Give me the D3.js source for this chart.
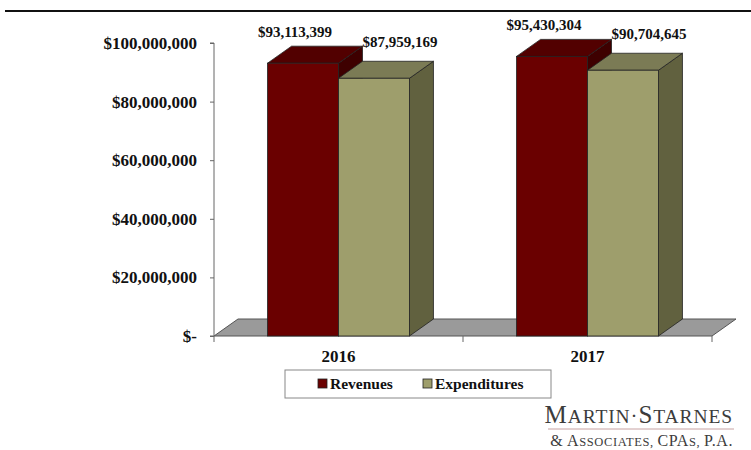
<!DOCTYPE html>
<meta charset="utf-8">
<script src="https://d3js.org/d3.v7.min.js"></script>
<style>
  body { margin: 0; background: #fff; }
  text { font-family: "Liberation Serif", "Times New Roman", serif; }
</style>
<div id="chart"></div>
<script>

// data
var years = ["2016", "2017"];
var series = ["Revenues", "Expenditures"];
var revenues = [93113399, 95430304];
var expenditures = [87959169, 90704645];
var yTicks = [0, 20000000, 40000000, 60000000, 80000000, 100000000];

var W = 751, H = 450;
var svg = d3.select("#chart").append("svg")
    .attr("width", W)
    .attr("height", H);

// rule across the top of the slide
svg.append("line")
    .attr("x1", 5).attr("x2", W)
    .attr("y1", 11).attr("y2", 11)
    .attr("stroke", "#111").attr("stroke-width", 2);

// plot area (front plane) and 3d depth offset
var pLeft = 214, pRight = 712, pTop = 43, pBottom = 336;
var dx = 24, dy = -17;

var x0 = d3.scaleBand().domain(years).range([pLeft, pRight]);
var x1 = d3.scaleBand().domain(series)
    .range([x0.bandwidth() * 0.215, x0.bandwidth() * 0.785]);
var y = d3.scaleLinear().domain([0, 100000000]).range([pBottom, pTop]);

var colors = {
  Revenues:     {front: "#6a0000", top: "#520000", side: "#3e0000"},
  Expenditures: {front: "#9e9e6c", top: "#7b7b55", side: "#61613f"}
};

// floor
svg.append("path")
    .attr("d", "M" + pLeft + "," + pBottom + "L" + pRight + "," + pBottom +
               "L" + (pRight + dx) + "," + (pBottom + dy) +
               "L" + (pLeft + dx) + "," + (pBottom + dy) + "Z")
    .attr("fill", "#9a9a9a")
    .attr("stroke", "#555")
    .attr("stroke-width", 1);

// y axis
var yAxis = svg.append("g")
    .attr("transform", "translate(" + pLeft + ",0)")
    .call(d3.axisLeft(y).tickValues(yTicks).tickSize(4).tickPadding(13)
      .tickFormat(function(d) { return d === 0 ? "$-" : "$" + d3.format(",")(d); }));
yAxis.select(".domain").attr("stroke", "#666").attr("d", "M-4," + pTop + "H0V" + pBottom + "H-4");
yAxis.selectAll(".tick line").attr("stroke", "#666");
yAxis.selectAll("text")
    .attr("font-family", "Liberation Serif")
    .attr("font-weight", "bold")
    .attr("font-size", "17px")
    .attr("fill", "#111");

// x axis
var xAxis = svg.append("g")
    .attr("transform", "translate(0," + pBottom + ")")
    .call(d3.axisBottom(x0).tickSize(0).tickPadding(14));
xAxis.select(".domain").remove();
xAxis.selectAll("text")
    .attr("font-family", "Liberation Serif")
    .attr("font-weight", "bold")
    .attr("font-size", "17px")
    .attr("fill", "#111");
// category separator ticks
svg.append("g").selectAll("line")
    .data([pLeft, x0(years[1]), pRight])
    .join("line")
      .attr("x1", function(d) { return d; }).attr("x2", function(d) { return d; })
      .attr("y1", pBottom).attr("y2", pBottom + 6)
      .attr("stroke", "#666");

// bars
var rows = [];
years.forEach(function(yr, i) {
  rows.push({year: yr, key: "Revenues", value: revenues[i]});
  rows.push({year: yr, key: "Expenditures", value: expenditures[i]});
});

function poly(pts) {
  return "M" + pts.map(function(p) { return p.join(","); }).join("L") + "Z";
}

var bars = svg.append("g").selectAll("g")
    .data(rows)
    .join("g");

bars.each(function(d) {
  var g = d3.select(this);
  var xa = x0(d.year) + x1(d.key), xb = xa + x1.bandwidth();
  var yt = y(d.value), yb = y(0);
  var c = colors[d.key];
  // side
  g.append("path")
      .attr("d", poly([[xb, yt], [xb + dx, yt + dy], [xb + dx, yb + dy], [xb, yb]]))
      .attr("fill", c.side).attr("stroke", "#222").attr("stroke-width", 0.8);
  // top
  g.append("path")
      .attr("d", poly([[xa, yt], [xa + dx, yt + dy], [xb + dx, yt + dy], [xb, yt]]))
      .attr("fill", c.top).attr("stroke", "#222").attr("stroke-width", 0.8);
  // front
  g.append("rect")
      .attr("x", xa).attr("y", yt)
      .attr("width", xb - xa).attr("height", yb - yt)
      .attr("fill", c.front).attr("stroke", "#222").attr("stroke-width", 0.8);
});

// value labels
svg.append("g").selectAll("text")
    .data(rows)
    .join("text")
      .attr("x", function(d) { return x0(d.year) + x1(d.key) + x1.bandwidth() / 2 + (d.key === "Revenues" ? -8 : 26); })
      .attr("y", function(d) { return y(d.value) + dy - (d.key === "Revenues" ? 9 : 14); })
      .attr("text-anchor", "middle")
      .attr("font-weight", "bold")
      .attr("font-size", "15px")
      .attr("fill", "#111")
      .text(function(d) { return "$" + d3.format(",")(d.value); });

// legend
var legend = svg.append("g").attr("transform", "translate(285,370)");
legend.append("rect")
    .attr("width", 266).attr("height", 28)
    .attr("fill", "#fff").attr("stroke", "#888").attr("stroke-width", 1);
var legX = d3.scalePoint().domain(series).range([33, 138]);
var items = legend.selectAll("g.item")
    .data(series)
    .join("g")
      .attr("class", "item")
      .attr("transform", function(d) { return "translate(" + legX(d) + ",14)"; });
items.append("rect")
    .attr("x", 0).attr("y", -5)
    .attr("width", 9).attr("height", 9)
    .attr("fill", function(d) { return colors[d].front; })
    .attr("stroke", "#222").attr("stroke-width", 0.8);
items.append("text")
    .attr("x", 12).attr("y", 5)
    .attr("font-weight", "bold")
    .attr("font-size", "15.5px")
    .attr("fill", "#111")
    .text(function(d) { return d; });

// firm logo
var logo = svg.append("g").attr("fill", "#3c3c3c");
var t1 = logo.append("text")
    .attr("x", 733).attr("y", 423)
    .attr("text-anchor", "end")
    .attr("letter-spacing", "0.9px");
t1.append("tspan").attr("font-size", "25px").text("M");
t1.append("tspan").attr("font-size", "19.5px").text("ARTIN");
t1.append("tspan").attr("font-size", "21px").text("\u00B7");
t1.append("tspan").attr("font-size", "25px").text("S");
t1.append("tspan").attr("font-size", "19.5px").text("TARNES");
logo.append("line")
    .attr("x1", 548).attr("x2", 734)
    .attr("y1", 429).attr("y2", 429)
    .attr("stroke", "#c7a2a2").attr("stroke-width", 1);
var t2 = logo.append("text")
    .attr("x", 733).attr("y", 446)
    .attr("text-anchor", "end")
    .attr("letter-spacing", "0.6px");
t2.append("tspan").attr("font-size", "16px").text("& A");
t2.append("tspan").attr("font-size", "12.5px").text("SSOCIATES, ");
t2.append("tspan").attr("font-size", "16px").text("CPA");
t2.append("tspan").attr("font-size", "12.5px").text("S, ");
t2.append("tspan").attr("font-size", "16px").text("P.A.");

</script>
